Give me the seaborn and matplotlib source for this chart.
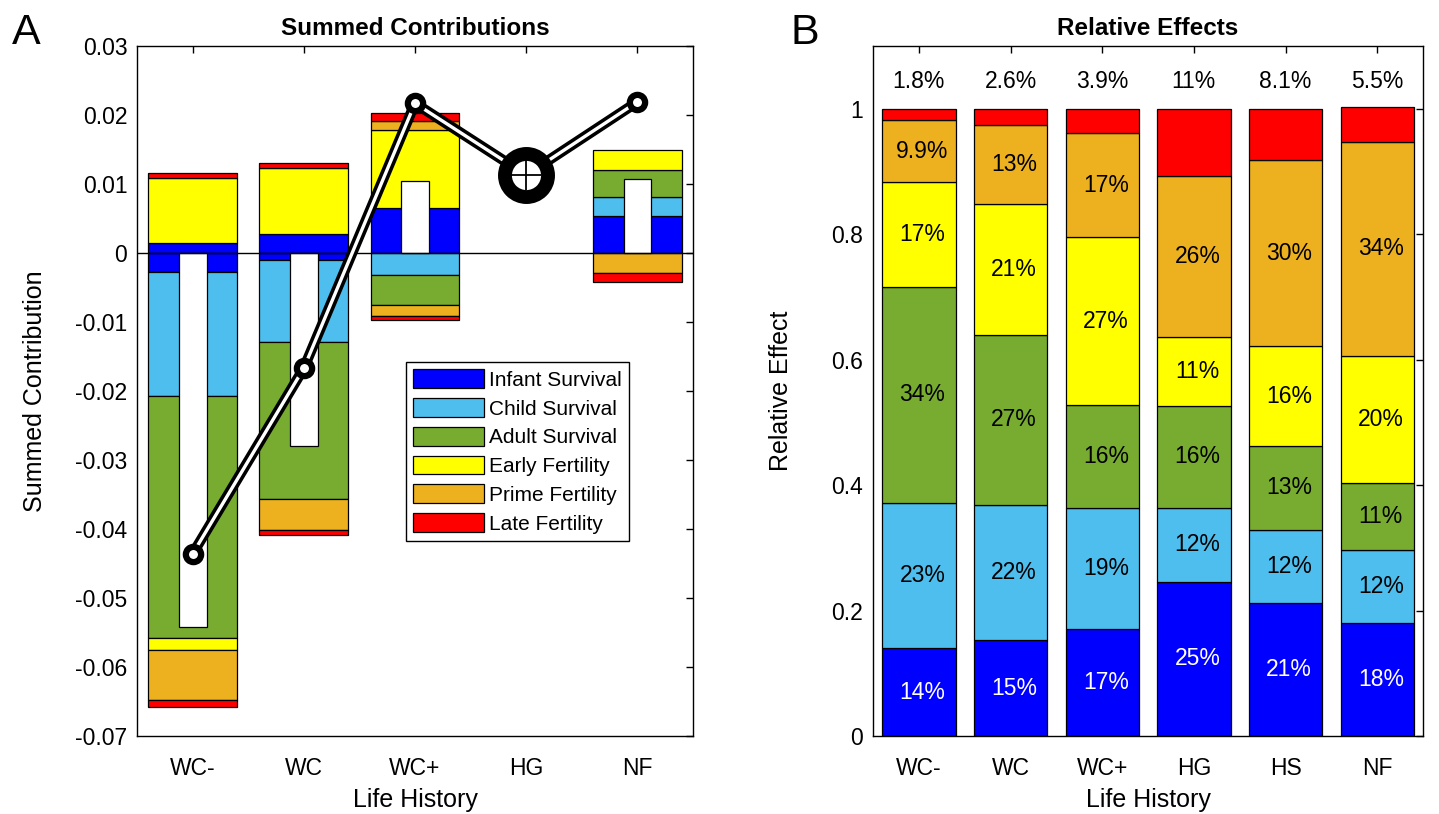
import numpy as np
import matplotlib
matplotlib.use('Agg')
import matplotlib.pyplot as plt
from matplotlib.patches import Patch
import seaborn as sns

# Components and MATLAB-like colours
components = ['Infant Survival', 'Child Survival', 'Adult Survival',
              'Early Fertility', 'Prime Fertility', 'Late Fertility']
colors = ['#0000FF', '#4DBEEE', '#77AC30', '#FFFF00', '#EDB120', '#FF0000']

# Panel A: summed contributions, positive and negative parts per component
histories_a = ['WC-', 'WC', 'WC+', 'HG', 'NF']
pos_infant = [0.00145, 0.00275, 0.0065, 0, 0.00535]
pos_child = [0, 0, 0, 0, 0.00275]
pos_adult = [0, 0, 0, 0, 0.0039]
pos_early = [0.00945, 0.00957, 0.0113, 0, 0.0030]
pos_prime = [0, 0, 0.0013, 0, 0]
pos_late = [0.0007, 0.0007, 0.0012, 0, 0]
neg_infant = [-0.00275, -0.0010, 0, 0, 0]
neg_child = [-0.0180, -0.0119, -0.0032, 0, 0]
neg_adult = [-0.0350, -0.0228, -0.0043, 0, 0]
neg_early = [-0.0018, 0, 0, 0, 0]
neg_prime = [-0.0073, -0.0044, -0.0016, 0, -0.0029]
neg_late = [-0.0010, -0.0008, -0.0006, 0, -0.0013]
net_contrib = [-0.0542, -0.0279, 0.0104, 0, 0.0107]
observed = [-0.0436, -0.0167, 0.0217, 0.0113, 0.0219]

# Panel B: relative effects
histories_b = ['WC-', 'WC', 'WC+', 'HG', 'HS', 'NF']
rel_infant = [0.14, 0.153, 0.171, 0.246, 0.212, 0.18]
rel_child = [0.232, 0.216, 0.193, 0.118, 0.117, 0.117]
rel_adult = [0.344, 0.27, 0.163, 0.162, 0.133, 0.107]
rel_early = [0.167, 0.209, 0.268, 0.11, 0.159, 0.202]
rel_prime = [0.099, 0.126, 0.166, 0.257, 0.298, 0.341]
rel_late = [0.018, 0.026, 0.039, 0.107, 0.081, 0.055]

sns.set_style('white')
plt.rcParams['font.family'] = ['Liberation Sans', 'DejaVu Sans']
plt.rcParams['axes.linewidth'] = 1.0
plt.rcParams['text.color'] = 'black'
plt.rcParams['axes.labelcolor'] = 'black'

fig = plt.figure(figsize=(14.39, 8.14), dpi=100)
axA = fig.add_axes([137 / 1439, 78 / 814, 556 / 1439, 690 / 814])
axB = fig.add_axes([873 / 1439, 78 / 814, 550 / 1439, 690 / 814])


def stacked(ax, cats, parts, width):
    bottom = np.zeros(len(cats))
    for vals, col in zip(parts, colors):
        vals = np.array(vals, dtype=float)
        sns.barplot(x=cats, y=vals, bottom=bottom, color=col, saturation=1,
                    width=width, edgecolor='black', linewidth=0.9, ax=ax)
        for p in ax.containers[-1]:
            if p.get_height() == 0:
                p.set_visible(False)
        bottom = bottom + vals
    return bottom


# ---- Panel A ----
stacked(axA, histories_a, [pos_infant, pos_child, pos_adult, pos_early, pos_prime, pos_late], 0.8)
stacked(axA, histories_a, [neg_infant, neg_child, neg_adult, neg_early, neg_prime, neg_late], 0.8)
sns.barplot(x=histories_a, y=net_contrib, color='white', saturation=1, width=0.25,
            edgecolor='black', linewidth=0.9, ax=axA)
for p in axA.containers[-1]:
    if p.get_height() == 0:
        p.set_visible(False)
axA.axhline(0, color='black', lw=1, zorder=3)

xpos = np.arange(len(histories_a))
sns.lineplot(x=xpos, y=observed, color='black', lw=7.5, ax=axA, zorder=4)
sns.lineplot(x=xpos, y=observed, color='white', lw=2.4, ax=axA, zorder=5)
small = [i for i, h in enumerate(histories_a) if h != 'HG']
axA.plot(xpos[small], np.array(observed)[small], 'o', ms=11, mfc='white', mec='black',
         mew=4.5, zorder=6)
ref = histories_a.index('HG')
axA.plot([xpos[ref]], [observed[ref]], 'o', ms=31, mfc='white', mec='black', mew=10, zorder=6)
axA.plot([xpos[ref]], [observed[ref]], '+', ms=22, mec='black', mew=1.3, zorder=7)

axA.set_xlim(-0.5, len(histories_a) - 0.5)
axA.set_ylim(-0.07, 0.03)
axA.set_yticks(np.arange(-0.07, 0.031, 0.01))
axA.set_yticklabels(['-0.07', '-0.06', '-0.05', '-0.04', '-0.03', '-0.02', '-0.01',
                     '0', '0.01', '0.02', '0.03'])
axA.set_title('Summed Contributions', fontsize=17.5, fontweight='bold', pad=8)
axA.set_ylabel('Summed Contribution', fontsize=18, labelpad=20)
axA.set_xlabel('Life History', fontsize=18, labelpad=6)

handles = [Patch(facecolor=c, edgecolor='black', lw=0.9) for c in colors]
leg = axA.legend(handles, components, loc='upper left', bbox_to_anchor=(0.484, 0.542),
                 fontsize=15, handlelength=3.4, handleheight=1.0, labelspacing=0.4,
                 handletextpad=0.25, borderpad=0.35, borderaxespad=0, fancybox=False,
                 framealpha=1, edgecolor='black')
leg.get_frame().set_linewidth(1)

# ---- Panel B ----
parts_b = [rel_infant, rel_child, rel_adult, rel_early, rel_prime, rel_late]
stacked(axB, histories_b, parts_b, 0.8)
bottom = np.zeros(len(histories_b))
for k, vals in enumerate(parts_b):
    for i, v in enumerate(vals):
        txt = f'{v * 100:.2g}%'
        if k == len(parts_b) - 1:
            axB.text(i, 1.043, txt, ha='center', va='center', fontsize=16.5, color='black')
        else:
            axB.text(i + 0.04, bottom[i] + v / 2, txt, ha='center', va='center', fontsize=16.5,
                     color='white' if k == 0 else 'black')
    bottom = bottom + np.array(vals)

axB.set_xlim(-0.5, len(histories_b) - 0.5)
axB.set_ylim(0, 1.1)
axB.set_yticks([0, 0.2, 0.4, 0.6, 0.8, 1])
axB.set_yticklabels(['0', '0.2', '0.4', '0.6', '0.8', '1'])
axB.set_title('Relative Effects', fontsize=17.5, fontweight='bold', pad=8)
axB.set_ylabel('Relative Effect', fontsize=18, labelpad=28)
axB.set_xlabel('Life History', fontsize=18, labelpad=6)

for ax in (axA, axB):
    ax.tick_params(direction='in', top=True, right=True, length=5, width=1,
                   labelsize=16.5, colors='black')
    ax.tick_params(axis='x', pad=15)
    ax.tick_params(axis='y', pad=7)
    for s in ax.spines.values():
        s.set_visible(True)
        s.set_color('black')
        s.set_linewidth(1)

fig.text(12 / 1439, 1 - 44 / 814, 'A', fontsize=31, va='baseline')
fig.text(790 / 1439, 1 - 44 / 814, 'B', fontsize=31, va='baseline')

fig.savefig('out.png', dpi=100)
